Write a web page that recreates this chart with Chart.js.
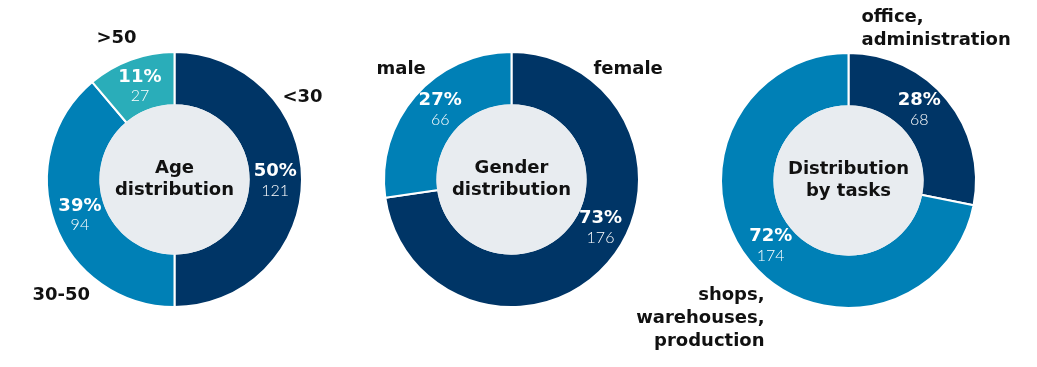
<!DOCTYPE html>
<html>
<head>
<meta charset="utf-8">
<script src="https://cdn.jsdelivr.net/npm/chart.js@4"></script>
<style>
  html, body { margin: 0; padding: 0; background: #fff; }
  #wrap { position: relative; width: 1037px; height: 367px; }
  #wrap canvas { position: absolute; left: 0; top: 0; }
</style>
</head>
<body>
<div id="wrap">
  <canvas id="age" width="1037" height="367"></canvas>
  <canvas id="gender" width="1037" height="367"></canvas>
  <canvas id="tasks" width="1037" height="367"></canvas>
</div>
<script>
// data
const ageLabels = ['<30', '30-50', '>50'];
const ageCounts = [121, 94, 27];
const agePct = [50, 39, 11];

const genderLabels = ['female', 'male'];
const genderCounts = [176, 66];
const genderPct = [73, 27];

const taskLabels = ['office, administration', 'shops, warehouses, production'];
const taskCounts = [68, 174];
const taskPct = [28, 72];

const NAVY = '#003566';
const BLUE = '#0080b6';
const TEAL = '#2aadb9';
const INNER = '#e8ecf0';

const boldFont = '"DejaVu Sans", sans-serif';
const lightFont = 'Lato, "Open Sans", sans-serif';

// fills the hole (covering the white inner edge), writes center title, values and category labels
const donutText = {
  id: 'donutText',
  afterDatasetsDraw(chart, args, opts) {
    const meta = chart.getDatasetMeta(0);
    const ctx = chart.ctx;
    const cx = meta.data[0].x, cy = meta.data[0].y;
    ctx.save();
    ctx.fillStyle = INNER;
    ctx.beginPath();
    ctx.arc(cx, cy, meta.data[0].innerRadius + 1.2, 0, Math.PI * 2);
    ctx.fill();

    ctx.textBaseline = 'middle';

    // center title
    ctx.fillStyle = '#111';
    ctx.textAlign = 'center';
    ctx.font = 'bold 18px ' + boldFont;
    opts.title.forEach((line, i) => {
      ctx.fillText(line, cx, cy - 11 + i * 22);
    });

    // values in the ring
    meta.data.forEach((arc, i) => {
      let p = arc.getCenterPoint();
      const shift = (opts.angleShift || [])[i];
      if (shift) {
        const mid = (arc.startAngle + arc.endAngle) / 2 + shift * Math.PI / 180;
        const r = (arc.innerRadius + arc.outerRadius) / 2;
        p = { x: cx + Math.cos(mid) * r, y: cy + Math.sin(mid) * r };
      }
      ctx.fillStyle = '#fff';
      ctx.font = 'bold 18px ' + boldFont;
      ctx.fillText(opts.pct[i] + '%', p.x, p.y - 8);
      ctx.font = '300 16px ' + lightFont;
      ctx.fillText(String(chart.data.datasets[0].data[i]), p.x, p.y + 11);
    });

    // category labels outside
    ctx.fillStyle = '#111';
    ctx.font = 'bold 18px ' + boldFont;
    opts.cats.forEach(c => {
      ctx.textAlign = c.align;
      c.lines.forEach((line, j) => {
        ctx.fillText(line, cx + c.dx, cy + c.dy + j * 23);
      });
    });
    ctx.restore();
  }
};

function makeDonut(id, labels, counts, pct, colors, pad, title, cats, angleShift) {
  return new Chart(document.getElementById(id), {
    type: 'doughnut',
    data: {
      labels: labels,
      datasets: [{
        data: counts,
        backgroundColor: colors,
        borderColor: '#fff',
        borderWidth: 2
      }]
    },
    options: {
      responsive: false,
      animation: false,
      events: [],
      cutout: '58%',
      layout: { padding: pad },
      plugins: {
        legend: { display: false },
        tooltip: { enabled: false },
        donutText: { title: title, pct: pct, cats: cats, angleShift: angleShift }
      }
    },
    plugins: [donutText]
  });
}

makeDonut('age', ageLabels, ageCounts, agePct, [NAVY, BLUE, TEAL],
  { left: 46, right: 734, top: 51, bottom: 59 },
  ['Age', 'distribution'],
  [
    { lines: ['<30'], dx: 108, dy: -82, align: 'left' },
    { lines: ['30-50'], dx: -142, dy: 116, align: 'left' },
    { lines: ['>50'], dx: -78, dy: -141, align: 'left' }
  ]);

makeDonut('gender', genderLabels, genderCounts, genderPct, [NAVY, BLUE],
  { left: 383, right: 397, top: 51, bottom: 59 },
  ['Gender', 'distribution'],
  [
    { lines: ['female'], dx: 82, dy: -110, align: 'left' },
    { lines: ['male'], dx: -135, dy: -110, align: 'left' }
  ],
  [-13, 4]);

makeDonut('tasks', taskLabels, taskCounts, taskPct, [NAVY, BLUE],
  { left: 720, right: 60, top: 52, bottom: 58 },
  ['Distribution', 'by tasks'],
  [
    { lines: ['office,', 'administration'], dx: 13, dy: -163, align: 'left' },
    { lines: ['shops,', 'warehouses,', 'production'], dx: -84, dy: 115, align: 'right' }
  ],
  [-6, 0]);
</script>
</body>
</html>
